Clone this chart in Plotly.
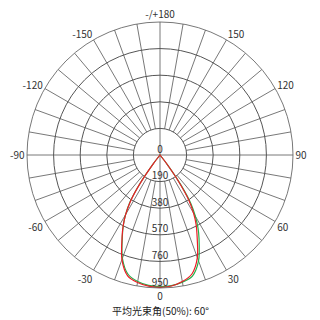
import plotly.graph_objects as go

# Photometric data (cd), angles in degrees from nadir
angles = [0, 5, 10, 15, 20, 25, 27.5, 30, 32.5, 35, 37.5, 40, 90]
red_left = [945, 940, 925, 893, 795, 640, 570, 490, 395, 245, 75, 0, 0]
red_right = [945, 939, 918, 880, 780, 625, 558, 478, 385, 235, 70, 0, 0]
green_left = [940, 935, 918, 882, 785, 636, 568, 492, 402, 255, 82, 0, 0]
green_right = [940, 936, 922, 895, 805, 660, 588, 505, 410, 258, 82, 0, 0]

radial_ticks = [0, 190, 380, 570, 760, 950]
angle_tickvals = [0, 30, 60, 90, 120, 150, 180, 210, 240, 270, 300, 330]
angle_ticktext = ['0', '30', '60', '90', '120', '150', '-/+180', '-150', '-120', '-90', '-60', '-30']
spoke_step = 10
title_text = '平均光束角(50%): 60°'

GRID = '#555555'
RED = '#ee1c25'
GREEN = '#22b14c'
FONT = 'Noto Sans CJK SC'


def full_curve(left, right):
    th = [-a for a in reversed(angles)] + angles[1:]
    rr = list(reversed(left)) + right[1:]
    return th, rr


fig = go.Figure()

# spokes
sr, st = [], []
rmin, rmax = radial_ticks[1], radial_ticks[-1]
for a in range(0, 360, spoke_step):
    start = 0 if a % 90 == 0 else rmin
    sr += [start, rmax, None]
    st += [a, a, None]
fig.add_trace(go.Scatterpolar(r=sr, theta=st, mode='lines',
                              line=dict(color=GRID, width=0.8),
                              hoverinfo='skip', showlegend=False))

th, rr = full_curve(green_left, green_right)
fig.add_trace(go.Scatterpolar(r=rr, theta=th, mode='lines',
                              line=dict(color=GREEN, width=1.2, shape='spline', smoothing=0.8),
                              showlegend=False))
th, rr = full_curve(red_left, red_right)
fig.add_trace(go.Scatterpolar(r=rr, theta=th, mode='lines',
                              line=dict(color=RED, width=1.2, shape='spline', smoothing=0.8),
                              showlegend=False))

# radial labels
fig.add_trace(go.Scatterpolar(r=radial_ticks, theta=[0] * len(radial_ticks), mode='text',
                              text=[str(v) for v in radial_ticks], textposition='top center',
                              textfont=dict(size=10, color='#333333', family=FONT),
                              hoverinfo='skip', showlegend=False))

fig.update_layout(
    width=320, height=320,
    margin=dict(l=0, r=0, t=0, b=0),
    paper_bgcolor='white',
    showlegend=False,
    polar=dict(
        domain=dict(x=[(160 - 133) / 320, (160 + 133) / 320], y=[32 / 320, 298 / 320]),
        bgcolor='white',
        angularaxis=dict(
            rotation=-90, direction='counterclockwise',
            tickvals=angle_tickvals, ticktext=angle_ticktext,
            showgrid=False, ticks='', showline=True, linecolor=GRID, linewidth=0.8,
            tickfont=dict(size=10, color='#333333', family=FONT),
        ),
        radialaxis=dict(
            range=[0, radial_ticks[-1]], tickvals=radial_ticks[1:],
            showticklabels=False, ticks='', showline=False,
            showgrid=True, gridcolor=GRID, gridwidth=0.8,
        ),
    ),
    annotations=[dict(text=title_text, x=0.5, y=1 - 310 / 320, xref='paper', yref='paper',
                      yanchor='middle', showarrow=False,
                      font=dict(size=10, color='#222222', family=FONT))],
)
fig.write_html('out.html')
